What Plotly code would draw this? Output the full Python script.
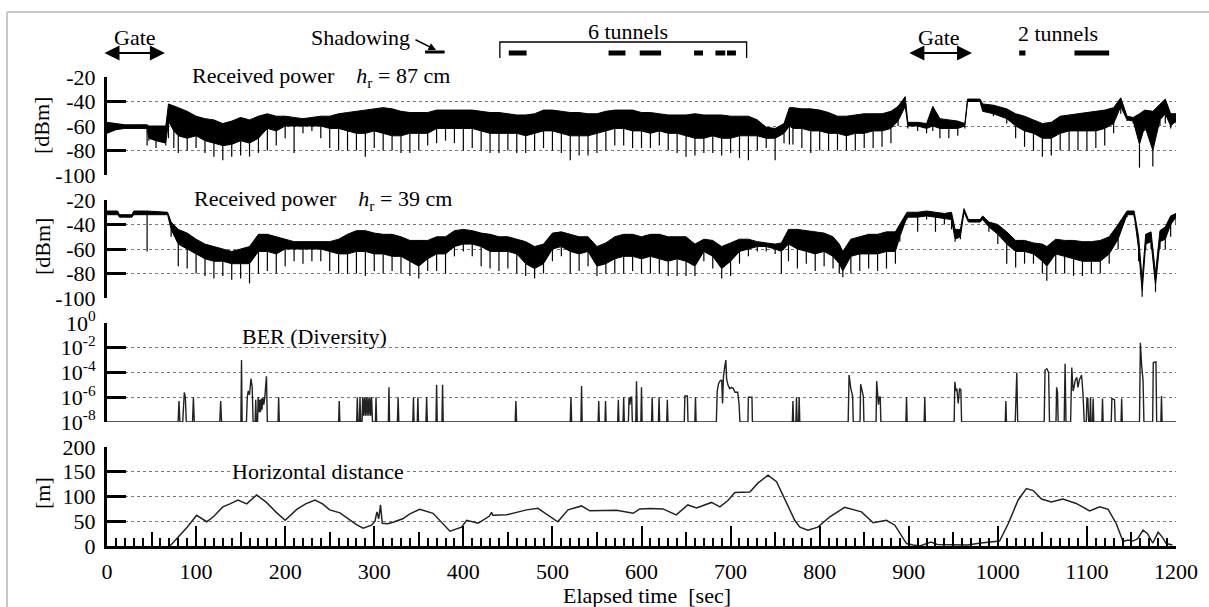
import plotly.graph_objects as go

# ---------------- DATA ----------------
# Received power, h_r = 87 cm : time [s], upper envelope, dense-band bottom, deepest dip [dBm]
p1_t = [0,10,20,30,40,45,47,55,66,69,75,80,90,100,110,120,130,140,150,160,170,180,190,200,210,220,230,240,250,260,
        270,280,290,300,310,320,330,340,350,360,370,380,390,400,410,420,430,440,450,460,470,480,490,500,510,520,530,
        540,550,560,570,580,590,600,610,620,630,640,650,660,670,680,690,700,710,720,730,740,750,760,766,770,780,790,
        800,810,820,830,840,850,860,870,880,888,896,899,910,920,927,935,945,955,963,966,980,983,995,1010,1020,1030,
        1040,1050,1060,1070,1080,1090,1100,1110,1120,1130,1138,1145,1152,1159,1165,1174,1182,1188,1194,1200]
p1_top = [-57,-58,-59,-59,-59,-59,-60,-60,-60,-42,-44,-45,-48,-52,-54,-55,-58,-56,-53,-55,-52,-50,-52,-52,-53,-54,
          -53,-52,-52,-50,-49,-48,-47,-46,-45,-46,-48,-49,-49,-49,-47,-47,-47,-47,-47,-48,-49,-49,-50,-51,-51,-50,
          -47,-47,-48,-49,-49,-50,-50,-48,-47,-47,-47,-49,-49,-50,-51,-51,-51,-50,-51,-51,-51,-52,-52,-52,-55,-61,
          -62,-58,-45,-45,-46,-46,-47,-49,-52,-52,-51,-50,-50,-50,-48,-44,-36,-57,-57,-58,-44,-54,-55,-56,-58,-38,
          -38,-42,-43,-46,-50,-52,-55,-58,-57,-52,-51,-50,-49,-48,-47,-45,-37,-52,-53,-50,-47,-48,-42,-38,-50,-50]
p1_bot = [-66,-63,-62,-62,-62,-62,-70,-72,-74,-56,-64,-68,-70,-68,-72,-74,-76,-75,-72,-74,-70,-62,-64,-60,-60,-60,
          -60,-60,-62,-62,-64,-66,-66,-64,-66,-68,-68,-66,-66,-66,-62,-62,-62,-62,-62,-64,-66,-66,-66,-66,-68,-66,
          -64,-64,-66,-68,-68,-68,-66,-64,-62,-62,-64,-64,-66,-64,-66,-66,-68,-70,-70,-68,-70,-70,-68,-68,-68,-70,
          -70,-66,-60,-62,-62,-64,-64,-66,-66,-68,-66,-66,-64,-64,-62,-56,-44,-60,-60,-62,-60,-62,-62,-62,-60,-40,
          -40,-48,-50,-54,-60,-64,-66,-70,-70,-66,-64,-64,-64,-64,-62,-58,-44,-55,-56,-75,-60,-80,-55,-50,-60,-56]
p1_dip = [-66,-63,-62,-62,-62,-76,-72,-78,-76,-70,-78,-82,-80,-78,-82,-85,-88,-85,-84,-85,-82,-80,-76,-70,-82,-66,
          -64,-70,-78,-80,-80,-80,-85,-78,-80,-80,-82,-82,-80,-76,-74,-72,-74,-80,-78,-80,-82,-82,-80,-82,-82,-80,
          -78,-80,-82,-88,-84,-84,-82,-80,-76,-76,-78,-78,-78,-76,-80,-82,-85,-84,-82,-82,-84,-82,-86,-88,-80,-78,
          -88,-74,-75,-75,-78,-82,-80,-80,-80,-80,-80,-78,-78,-77,-74,-60,-44,-62,-64,-66,-64,-70,-70,-68,-62,-40,
          -40,-48,-52,-58,-70,-77,-80,-85,-84,-80,-80,-80,-80,-78,-76,-66,-50,-56,-58,-94,-64,-93,-60,-58,-62,-58]

# Received power, h_r = 39 cm
p2_t = [0,12,14,28,30,45,68,72,80,90,100,110,120,130,140,150,160,170,180,190,200,210,220,230,240,250,260,270,280,290,
        300,310,320,330,340,350,360,370,380,390,400,410,420,430,440,450,460,470,480,490,500,510,520,530,540,550,560,
        570,580,590,600,610,620,630,640,650,660,670,680,690,700,710,720,730,740,750,757,765,775,785,795,805,815,822,
        826,835,845,855,865,875,885,890,898,910,920,930,940,948,952,958,962,967,980,983,990,1000,1010,1020,1030,1040,
        1050,1055,1065,1075,1085,1095,1105,1115,1125,1135,1145,1153,1158,1162,1166,1172,1177,1182,1188,1194,1200]
p2_top = [-29,-29,-32,-32,-29,-29,-30,-38,-44,-47,-52,-56,-58,-60,-62,-60,-58,-48,-48,-50,-52,-54,-54,-54,-54,-54,
          -52,-48,-45,-45,-47,-48,-48,-50,-53,-53,-53,-50,-50,-45,-44,-45,-47,-48,-50,-50,-52,-54,-58,-56,-47,-46,
          -48,-50,-50,-58,-55,-50,-48,-48,-50,-48,-48,-50,-50,-50,-56,-52,-53,-58,-55,-52,-52,-54,-55,-56,-55,-44,
          -44,-45,-46,-47,-50,-56,-62,-52,-50,-48,-48,-46,-46,-40,-30,-30,-29,-30,-31,-30,-44,-44,-27,-36,-36,-33,
          -38,-40,-46,-53,-53,-55,-56,-58,-52,-53,-53,-54,-54,-53,-50,-40,-29,-29,-50,-85,-48,-46,-80,-45,-42,-33,-31]
p2_bot = [-32,-32,-34,-34,-32,-32,-32,-44,-56,-60,-64,-68,-70,-70,-72,-72,-72,-62,-62,-64,-60,-60,-60,-60,-60,-62,
          -64,-64,-62,-62,-64,-64,-66,-66,-70,-74,-68,-64,-64,-58,-56,-56,-58,-62,-62,-62,-64,-72,-76,-72,-60,-58,
          -62,-64,-62,-74,-72,-68,-66,-66,-68,-66,-68,-70,-68,-70,-74,-62,-66,-76,-70,-62,-60,-58,-58,-60,-62,-56,
          -60,-62,-64,-62,-66,-72,-78,-66,-64,-64,-64,-62,-62,-50,-34,-34,-33,-34,-35,-36,-52,-50,-30,-38,-38,-36,
          -42,-48,-56,-62,-62,-64,-70,-74,-64,-66,-68,-70,-70,-70,-64,-52,-32,-32,-60,-95,-56,-54,-90,-54,-52,-40,-34]
p2_dip = [-32,-32,-34,-34,-32,-62,-32,-50,-74,-76,-80,-82,-84,-82,-85,-84,-88,-80,-78,-80,-74,-70,-72,-70,-70,-78,
          -80,-80,-80,-82,-78,-80,-78,-80,-82,-84,-78,-78,-80,-66,-62,-66,-74,-76,-78,-76,-80,-82,-84,-80,-70,-66,
          -80,-78,-74,-82,-80,-80,-80,-78,-80,-80,-80,-82,-82,-82,-82,-70,-76,-84,-82,-72,-66,-62,-62,-64,-80,-70,
          -76,-72,-78,-74,-76,-80,-83,-80,-78,-76,-78,-76,-72,-54,-36,-46,-36,-46,-40,-44,-54,-52,-30,-38,-38,-36,
          -46,-56,-72,-75,-72,-72,-80,-86,-80,-80,-82,-82,-80,-80,-72,-60,-34,-34,-70,-99,-60,-60,-95,-60,-60,-50,-40]

# BER (diversity): time [s] and log10(BER)
ber_t = [0,79.8,80.8,81.8,85,86,86.8,88,89,96,97,98,126.6,127.6,128.6,150.3,151,151.7,156.5,157.5,158.5,160,161.6,163,164,
         166.3,167,167.7,169,169.7,170.5,171.5,172.3,173.2,174,175,176,177,178.3,179,180,192,192.7,193.4,260,260.7,261.4,
         280.3,281,281.7,283.3,284,284.7,286.3,287,288,289,290,291,292,293,294,295,296,297,298,301.3,302,302.7,
         315.8,316.5,317.2,326,326.8,327.6,343.3,344,344.7,348.3,349,349.7,358,358.8,359.6,369.3,370,370.7,376,376.7,377.4,
         458.2,459,459.8,520,520.8,521.6,532,532.7,533.4,551.3,552,552.7,559,559.6,560.3,573.3,574,574.7,579.3,580,580.7,
         585.3,586,587,588,589,589.7,593.6,594.4,595.2,599.3,600,600.7,611.3,612,612.7,619,619.7,620.4,628.3,629,629.7,
         648,648.7,651.5,652.2,659.9,660.6,661.3,684,685,686.5,688,690,691,692,693.5,694.7,695.5,697,699,701,703,705,708,
         709.5,710.5,719.5,720,724,724.5,769.3,770,770.7,773.3,774,774.7,776.3,777,777.7,832,833,835,837,837.7,845.3,846,
         847.5,849,849.7,863.3,864,865,866,867,868,868.7,896.8,897.5,898.2,917.3,918,918.7,951,951.7,953,954,955.5,957,
         958.5,959.3,1008.3,1009,1009.7,1019.5,1020.5,1021.3,1022.3,1052,1053,1055,1057,1058,1065.3,1066,1067,1067.7,
         1074.5,1075.5,1076.5,1081.7,1083,1084.5,1086,1087,1088.7,1090,1091.5,1094,1095.5,1097,1099.3,1100,1101,1102,
         1103.3,1104,1104.7,1106.3,1107,1107.7,1116.8,1117.5,1118.2,1127.3,1128,1131,1131.7,1138.3,1139,1139.7,1159,1160,
         1161.5,1163,1164,1173.8,1174.5,1177.5,1178.3,1183,1183.7,1184.4,1200]
ber_log = [-8,-8,-6.3,-8,-8,-5.8,-5.6,-6,-8,-8,-6,-8,-8,-6.3,-8,-8,-3,-8,-8,-6.0,-5.5,-5.8,-4.5,-5.2,-8,
           -8,-6.2,-8,-8,-6,-7.2,-6.2,-7.2,-6.1,-7,-6,-6.6,-6.1,-5,-4.3,-8,-8,-6,-8,-8,-6.3,-8,
           -8,-6,-8,-8,-6,-8,-8,-6,-7.5,-6,-7.5,-6,-7.5,-6,-7.5,-6,-7.5,-6,-8,-8,-6,-8,
           -8,-5.2,-8,-8,-6,-8,-8,-6,-8,-8,-6,-8,-8,-6,-8,-8,-5,-8,-8,-5,-8,
           -8,-6.3,-8,-8,-6,-8,-8,-5.1,-8,-8,-6.3,-8,-8,-6.3,-8,-8,-6.2,-8,-8,-6,-8,
           -8,-6,-6.6,-6,-6,-8,-8,-4.7,-8,-8,-5.2,-8,-8,-6,-8,-8,-6,-8,-8,-6.2,-8,
           -8,-5.9,-5.9,-8,-8,-6,-8,-8,-5.5,-4.9,-4.7,-4.6,-6.5,-4.3,-3.5,-3.0,-4.5,-5.0,-5.3,-5.2,-5.3,-5.6,-5.6,
           -6.5,-8,-8,-6,-6,-8,-8,-6.3,-8,-8,-6,-8,-8,-6,-8,-8,-4.2,-5.3,-5.9,-8,-8,-4.95,
           -5.5,-5.9,-8,-8,-4.7,-5.6,-6.6,-6.0,-6.0,-8,-8,-6,-8,-8,-6,-8,-8,-4.75,-5.5,-5.3,-6.5,-5.3,
           -5.4,-8,-8,-6.3,-8,-8,-4.4,-4.0,-8,-8,-3.8,-3.7,-4.0,-8,-8,-5.2,-5.6,-8,
           -8,-3.3,-8,-8,-3.6,-5.5,-5.0,-4.6,-4.4,-5.2,-4.6,-4.2,-5.6,-8,-8,-6.1,-6.1,-8,
           -8,-6,-8,-8,-6.1,-8,-8,-6.1,-8,-8,-6.1,-6.2,-8,-8,-6.1,-8,-8,-1.6,
           -3.5,-4.6,-8,-8,-3.2,-3.15,-8,-8,-5.9,-8,-8]

# Horizontal distance [m]
dist_t = [70.7,80,90,100.6,112,120,130,138,147,156.8,168,179,190,200,213,223,233.4,242,250,261.5,272.7,280,287.5,297,
          300.8,303,305,307,309,315,321,332,340,351,366,375,385,398,403.7,416.7,429,431.7,433,448.6,460,471,483.8,495,
          506,517.5,532.7,542,560,572,590.6,598,610,624,639,652,661.8,670,678.6,688,697,704.8,721.7,730.6,742,751.6,
          764.3,772,777.8,786.8,798,811.4,828,847,860,875,884.4,897.5,905,912.5,925,932,966,981,1002,1011.6,1022.8,1032,
          1039.7,1049,1060,1073,1088,1103,1114.5,1123.8,1133,1140.6,1146,1151.5,1157,1163,1168,1174,1180,1185,1189,1196]
dist_v = [0,18,38,62,49,60,79,85,93,85,103,88,68,52,74,85,93,85,73,67,52,43,36,42,
          50,69,55,83,46,45,48,55,65,74,66,48,30,38,52,46,60,68,62,63,68,73,76,62,
          49,73,81,71,71,72,66,75,76,75,63,83,77,82,88,79,92,108,109,127,143,130,
          83,52,38,32,38,59,78,69,47,52,42,5,2,0,8,3,2,6,10,45,93,116,
          112,95,89,95,86,71,79,74,45,9,12,10,15,32,25,6,28,17,5,2]

# Top event markers (time, s)
gate_spans = [(-4.5, 65), (899, 971)]
gate_label_t = [31, 934]
shadow_span = (357, 379)
tunnels6_start = [451, 563, 598, 659, 683, 696]
tunnels6_end = [471, 582, 622, 669, 694, 706]
bracket6 = (441, 718)
tunnels2_start = [1024, 1086]
tunnels2_end = [1031, 1125]

dbm_ticks = [-20, -40, -60, -80, -100]
dbm_ticktext = ["-20", "-40", "-60", "-80", "-100"]
ber_ticks = [1, 1e-2, 1e-4, 1e-6, 1e-8]
ber_ticktext = ["10<sup>0</sup>", "10<sup>-2</sup>", "10<sup>-4</sup>", "10<sup>-6</sup>", "10<sup>-8</sup>"]
dist_ticks = [0, 50, 100, 150, 200]

# ---------------- FIGURE ----------------
FONT = "Liberation Serif"
FS = 22
TFS = 22
W, H = 1209, 607
ML, MR, MT, MB = 107, 33, 77, 61
PW, PH = W - ML - MR, H - MT - MB
PXS = PW / 1200.0


def py2paper(py):
    return (H - MB - py) / PH


fig = go.Figure()


def band(t, top, bot, dip, xa, ya):
    fig.add_trace(go.Scatter(x=t + t[::-1], y=top + bot[::-1], fill="toself", fillcolor="black",
                             mode="lines", line=dict(color="black", width=1), xaxis=xa, yaxis=ya,
                             hoverinfo="skip", showlegend=False))
    xs, ys = [], []
    for ti, b, d in zip(t, bot, dip):
        if d < b:
            xs += [ti, ti, None]
            ys += [b, d, None]
    fig.add_trace(go.Scatter(x=xs, y=ys, mode="lines", line=dict(color="black", width=1.2),
                             xaxis=xa, yaxis=ya, hoverinfo="skip", showlegend=False))


band(p1_t, p1_top, p1_bot, p1_dip, "x", "y")
band(p2_t, p2_top, p2_bot, p2_dip, "x2", "y2")

fig.add_trace(go.Scatter(x=ber_t, y=[10 ** v for v in ber_log], mode="lines",
                         line=dict(color="#222", width=1.4), xaxis="x3", yaxis="y3", showlegend=False))
fig.add_trace(go.Scatter(x=dist_t, y=dist_v, mode="lines", line=dict(color="#222", width=1.5),
                         xaxis="x4", yaxis="y4", showlegend=False))
fig.add_trace(go.Scatter(x=[0, 1200], y=[0, 0], mode="markers", marker=dict(opacity=0),
                         xaxis="x5", yaxis="y4", showlegend=False, hoverinfo="skip"))

yax = dict(showline=True, linewidth=3, linecolor="black", ticks="inside", ticklen=19, tickwidth=3,
           tickcolor="black", showgrid=True, gridcolor="#777", griddash="dot", gridwidth=1,
           zeroline=False, tickfont=dict(family=FONT, size=TFS, color="black"), ticklabelstandoff=4)
hidden_x = dict(range=[0, 1200], visible=False, domain=[0, 1])

doms = [(py2paper(175), 1.0), (py2paper(298), py2paper(200)), (py2paper(422), py2paper(323)), (0.0, py2paper(447))]

fig.update_layout(
    width=W, height=H, margin=dict(l=ML, r=MR, t=MT, b=MB),
    paper_bgcolor="white", plot_bgcolor="white", showlegend=False,
    font=dict(family=FONT, size=FS, color="black"),
    xaxis=dict(hidden_x, anchor="y"),
    xaxis2=dict(hidden_x, anchor="y2"),
    xaxis3=dict(hidden_x, anchor="y3"),
    xaxis4=dict(range=[0, 1200], domain=[0, 1], anchor="y4", showline=True, linewidth=3, linecolor="black",
                ticks="inside", ticklen=20, tickwidth=2, tickcolor="black", tick0=0, dtick=100,
                minor=dict(ticks="inside", dtick=10, tick0=0, ticklen=8, tickwidth=2, tickcolor="black"),
                showgrid=False, zeroline=False, tickfont=dict(family=FONT, size=TFS, color="black"),
                ticklabelstandoff=4),
    xaxis5=dict(range=[0, 1200], overlaying="x4", anchor="y4", side="bottom", showline=False,
                ticks="inside", ticklen=14, tickwidth=2, tickcolor="black", tickmode="array",
                tickvals=list(range(0, 1201, 50)), showticklabels=False, showgrid=False, zeroline=False),
    yaxis=dict(yax, domain=doms[0], range=[-100, -20], tickvals=dbm_ticks, ticktext=dbm_ticktext, anchor="x"),
    yaxis2=dict(yax, domain=doms[1], range=[-100, -20], tickvals=dbm_ticks, ticktext=dbm_ticktext, anchor="x2"),
    yaxis3=dict(yax, domain=doms[2], type="log", range=[-8, 0], tickvals=ber_ticks, ticktext=ber_ticktext,
                anchor="x3"),
    yaxis4=dict(yax, domain=doms[3], range=[0, 200], tickvals=dist_ticks, anchor="x4"),
)

ann = []
txt = dict(family=FONT, size=FS, color="black")
mid = dict(showarrow=False, font=txt, xanchor="center", yanchor="middle")
# y titles
for label, py in [("[dBm]", 126), ("[dBm]", 247), ("[m]", 493)]:
    ann.append(dict(mid, text=label, xref="paper", yref="paper", x=(42 - ML) / PW, y=py2paper(py), textangle=-90))
ann.append(dict(mid, text="Elapsed time \u00a0[sec]", xref="paper", yref="paper", x=(647 - ML) / PW,
                y=py2paper(595)))
# panel labels
sp = "\u00a0\u00a0\u00a0\u00a0"
ann.append(dict(mid, text="Received power" + sp + "<i>h</i><sub>r</sub> = 87 cm", xref="x", yref="y", x=240,
                y=-20, bgcolor="white", borderpad=0))
ann.append(dict(mid, text="Received power" + sp + "<i>h</i><sub>r</sub> = 39 cm", xref="x2", yref="y2", x=242,
                y=-20, bgcolor="white", borderpad=0))
ann.append(dict(mid, text="BER (Diversity)", xref="x3", yref="y3", x=233, y=-1.13))
ann.append(dict(mid, text="Horizontal distance", xref="x4", yref="y4", x=237, y=150, bgcolor="white",
                borderpad=0))

# top markers
for (a, b), lt in zip(gate_spans, gate_label_t):
    ann.append(dict(text="", xref="x", yref="paper", x=b, y=py2paper(53), axref="pixel", ayref="pixel",
                    ax=-(b - a) * PXS, ay=0, showarrow=True, arrowside="end+start", arrowhead=2, startarrowhead=2,
                    arrowsize=1.5, startarrowsize=1.5, arrowwidth=2, arrowcolor="black", standoff=0, startstandoff=0))
    ann.append(dict(mid, text="Gate", xref="x", yref="paper", x=lt, y=py2paper(37)))
ann.append(dict(mid, text="Shadowing", xref="paper", yref="paper", x=(360 - ML) / PW, y=py2paper(37)))
ann.append(dict(text="", xref="x", yref="paper", x=(436 - ML) / PXS, y=py2paper(50), axref="pixel", ayref="pixel",
                ax=-22, ay=-11, showarrow=True, arrowhead=2, arrowsize=1, arrowwidth=1.5, arrowcolor="black",
                standoff=0))
ann.append(dict(mid, text="6 tunnels", xref="x", yref="paper", x=585, y=py2paper(32)))
ann.append(dict(mid, text="2 tunnels", xref="x", yref="paper", x=1068, y=py2paper(33)))
fig.update_layout(annotations=ann)

shapes = []
yb = py2paper(53)
shapes.append(dict(type="line", xref="x", yref="paper", x0=shadow_span[0], x1=shadow_span[1], y0=py2paper(52),
                   y1=py2paper(52), line=dict(color="black", width=3)))
for s, e in zip(tunnels6_start + tunnels2_start, tunnels6_end + tunnels2_end):
    shapes.append(dict(type="line", xref="x", yref="paper", x0=s, x1=e, y0=yb, y1=yb,
                       line=dict(color="black", width=5)))
b0, b1 = bracket6
shapes.append(dict(type="path", xref="x", yref="paper",
                   path=f"M {b0},{py2paper(58)} L {b0},{py2paper(42)} L {b1},{py2paper(42)} L {b1},{py2paper(58)}",
                   line=dict(color="black", width=1.3)))
# light frame around the figure
shapes.append(dict(type="line", xref="paper", yref="paper", x0=(7 - ML) / PW, x1=(W - ML) / PW,
                   y0=py2paper(12), y1=py2paper(12), line=dict(color="#c8c8c8", width=2)))
shapes.append(dict(type="line", xref="paper", yref="paper", x0=(7 - ML) / PW, x1=(7 - ML) / PW,
                   y0=py2paper(12), y1=py2paper(H), line=dict(color="#c8c8c8", width=2)))
fig.update_layout(shapes=shapes)

fig.write_html("out.html")
